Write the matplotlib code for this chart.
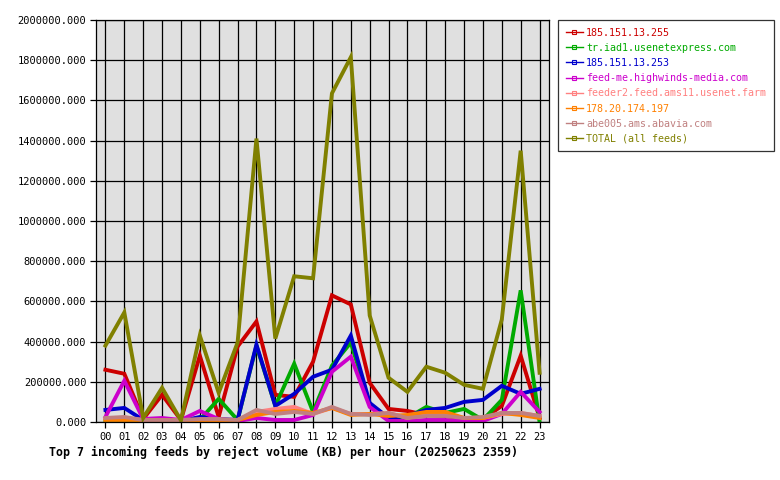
import matplotlib
matplotlib.use("Agg")
import matplotlib.pyplot as plt
from matplotlib.lines import Line2D

hours = ["%02d" % h for h in range(24)]

feed_names = [
    "185.151.13.255",
    "tr.iad1.usenetexpress.com",
    "185.151.13.253",
    "feed-me.highwinds-media.com",
    "feeder2.feed.ams11.usenet.farm",
    "178.20.174.197",
    "abe005.ams.abavia.com",
    "TOTAL (all feeds)",
]
feed_colors = ["#cc0000", "#00aa00", "#0000cc", "#cc00cc",
               "#ff8080", "#ff8000", "#c08080", "#808000"]

red_255 = [260000, 240000, 15000, 135000, 10000, 330000, 25000, 375000,
           500000, 135000, 125000, 300000, 630000, 585000, 195000, 65000,
           55000, 35000, 30000, 15000, 15000, 80000, 330000, 20000]
usenetexpress = [5000, 5000, 5000, 5000, 3000, 10000, 115000, 10000,
                 380000, 80000, 290000, 50000, 280000, 395000, 90000, 20000,
                 20000, 75000, 45000, 65000, 10000, 110000, 655000, 0]
blue_253 = [60000, 70000, 10000, 10000, 5000, 25000, 15000, 10000,
            385000, 80000, 140000, 225000, 260000, 430000, 95000, 20000,
            30000, 60000, 70000, 100000, 110000, 180000, 140000, 165000]
highwinds = [25000, 205000, 15000, 20000, 10000, 55000, 15000, 5000,
             20000, 10000, 10000, 35000, 250000, 325000, 75000, 5000,
             5000, 10000, 10000, 5000, 5000, 40000, 150000, 50000]
ams11 = [15000, 20000, 10000, 10000, 10000, 10000, 10000, 10000,
         50000, 65000, 75000, 40000, 70000, 40000, 40000, 45000,
         20000, 40000, 40000, 20000, 20000, 40000, 45000, 30000]
ip_197 = [10000, 10000, 10000, 10000, 10000, 10000, 10000, 10000,
          35000, 50000, 55000, 45000, 70000, 35000, 40000, 30000,
          35000, 50000, 50000, 20000, 20000, 45000, 35000, 20000]
abavia = [20000, 25000, 10000, 10000, 10000, 15000, 15000, 10000,
          60000, 40000, 50000, 40000, 75000, 40000, 35000, 45000,
          20000, 30000, 30000, 20000, 25000, 45000, 45000, 30000]
total = [380000, 545000, 20000, 170000, 8000, 430000, 145000, 395000,
         1410000, 415000, 725000, 715000, 1635000, 1815000, 530000, 220000,
         150000, 275000, 245000, 185000, 165000, 510000, 1350000, 245000]

series = [red_255, usenetexpress, blue_253, highwinds, ams11, ip_197, abavia, total]

font = "DejaVu Sans Mono"
fig = plt.figure(figsize=(7.8, 4.8), dpi=100)
ax = fig.add_axes([96 / 780, 58 / 480, 453 / 780, 402 / 480])
ax.set_facecolor("#e0e0e0")

x = list(range(24))
for vals, col in zip(series, feed_colors):
    ax.plot(x, vals, color=col, linewidth=2.8, solid_joinstyle="miter")

ax.set_xlim(-0.5, 23.5)
ax.set_ylim(0, 2000000)
ax.set_xticks(x)
ax.set_xticklabels(hours, fontfamily=font, fontsize=7.5)
yt = list(range(0, 2000001, 200000))
ax.set_yticks(yt)
ax.set_yticklabels(["%.3f" % v for v in yt], fontfamily=font, fontsize=7.5)
ax.grid(True, color="black", linewidth=0.9)
ax.set_axisbelow(True)
ax.tick_params(length=4, width=0.9, color="black", pad=3)
for s in ax.spines.values():
    s.set_color("black")
    s.set_linewidth(0.9)

fig.text(49 / 780, 1 - 452 / 480, "Top 7 incoming feeds by reject volume (KB) per hour (20250623 2359)",
         fontfamily=font, fontsize=8.4, fontweight="bold", va="center", ha="left")

handles = [Line2D([], [], color=c, linewidth=1, marker="s", markersize=2.5,
                  markerfacecolor="none", markeredgewidth=0.8) for c in feed_colors]
leg = fig.legend(handles, feed_names, loc="upper left",
                 bbox_to_anchor=(558 / 780, 1 - 20 / 480), frameon=True,
                 fancybox=False, prop={"family": font, "size": 7.2},
                 handlelength=1.7, handletextpad=0.35, borderpad=0.75,
                 labelspacing=0.52, borderaxespad=0)
leg.get_frame().set_edgecolor("black")
leg.get_frame().set_linewidth(0.9)
for t, c in zip(leg.get_texts(), feed_colors):
    t.set_color(c)

fig.savefig("out.png", dpi=100)
